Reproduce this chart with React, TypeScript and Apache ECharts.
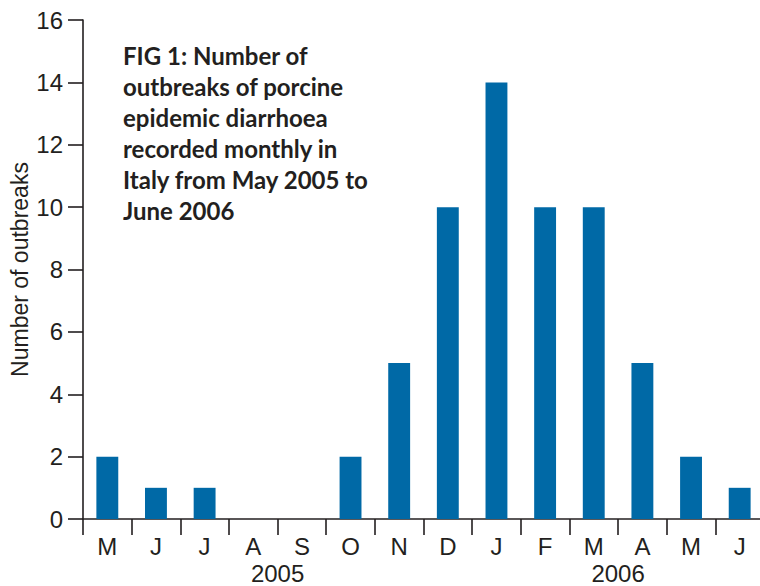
import React, { useEffect, useRef } from "react";
import * as echarts from "echarts";

const months = ["M", "J", "J", "A", "S", "O", "N", "D", "J", "F", "M", "A", "M", "J"];
const outbreaks = [2, 1, 1, 0, 0, 2, 5, 10, 14, 10, 10, 5, 2, 1];
const years = ["2005", "2006"];
const monthsPerYear = [8, 6];
const yTicks = [0, 2, 4, 6, 8, 10, 12, 14, 16];
const titleLines = [
  "FIG 1: Number of",
  "outbreaks of porcine",
  "epidemic diarrhoea",
  "recorded monthly in",
  "Italy from May 2005 to",
  "June 2006",
];

const INK = "#231f20";
const BAR = "#0069a6";
const FONT = "Liberation Sans";

export default function App() {
  const ref = useRef<HTMLDivElement>(null);
  useEffect(() => {
    if (!ref.current) return;
    const chart = echarts.init(ref.current, undefined, { renderer: "svg" });
    const yearCenters: number[] = [];
    let acc = 0;
    monthsPerYear.forEach((n) => {
      yearCenters.push(acc + n / 2);
      acc += n;
    });
    chart.setOption({
      animation: false,
      grid: {
        left: 83,
        right: -4,
        top: 20,
        bottom: 67,
        containLabel: false,
        outerBoundsMode: "none",
      },
      xAxis: [
        {
          type: "category",
          data: months,
          boundaryGap: true,
          axisLine: { lineStyle: { color: INK, width: 1.6 } },
          axisTick: { show: true, length: 16, lineStyle: { color: INK, width: 1.6 } },
          axisLabel: {
            color: INK,
            fontFamily: FONT,
            fontSize: 24,
            margin: 15,
            interval: 0,
          },
        },
        {
          type: "value",
          position: "bottom",
          min: 0,
          max: acc,
          axisLine: { show: false },
          axisTick: { show: false },
          splitLine: { show: false },
          axisLabel: {
            customValues: yearCenters,
            formatter: (v: number) => years[yearCenters.indexOf(v)] ?? "",
            color: INK,
            fontFamily: FONT,
            fontSize: 24,
            margin: 42,
          },
        },
      ],
      yAxis: {
        type: "value",
        min: yTicks[0],
        max: yTicks[yTicks.length - 1],
        interval: 2,
        name: "Number of outbreaks",
        nameLocation: "middle",
        nameGap: 52,
        nameRotate: 90,
        nameMoveOverlap: false,
        nameTextStyle: { color: INK, fontFamily: FONT, fontSize: 23 },
        axisLine: { show: true, lineStyle: { color: INK, width: 1.6 } },
        axisTick: { show: true, length: 15, lineStyle: { color: INK, width: 1.6 } },
        splitLine: { show: false },
        axisLabel: {
          color: INK,
          fontFamily: FONT,
          fontSize: 24,
          margin: 20,
        },
      },
      series: [
        {
          type: "bar",
          xAxisIndex: 0,
          data: outbreaks,
          barWidth: "45%",
          itemStyle: { color: BAR },
        },
      ],
      graphic: [
        {
          type: "text",
          left: 123,
          top: 40,
          style: {
            text: titleLines.join("\n"),
            fill: INK,
            font: "bold 24px Lato",
            lineHeight: 31,
          },
        },
      ],
    });
    return () => chart.dispose();
  }, []);
  return (
    <div
      ref={ref}
      style={{ position: "fixed", left: 0, top: 0, width: 760, height: 586, background: "#fff" }}
    />
  );
}
